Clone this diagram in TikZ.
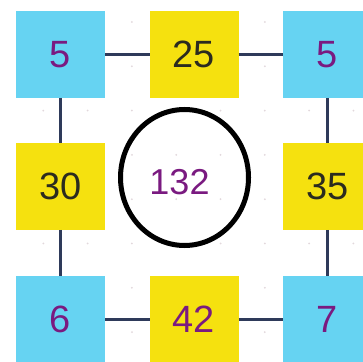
\documentclass[tikz,border=0pt]{standalone}
\usepackage{fontspec}
\setmainfont{Liberation Sans}
\usetikzlibrary{shapes.geometric}
\definecolor{boxblue}{HTML}{66D3F2}
\definecolor{boxyellow}{HTML}{F5E10F}
\definecolor{numpurple}{HTML}{7A1A80}
\definecolor{numdark}{HTML}{2B2B1F}
\definecolor{linknavy}{HTML}{2E3A5A}
\definecolor{dotgray}{HTML}{E2D8DC}
\begin{document}
\begin{tikzpicture}[x=1pt,y=1pt,
  cell/.style={minimum width=89pt,minimum height=87pt,inner sep=0pt,outer sep=0pt,
    font=\fontsize{38}{40}\selectfont},
  bluecell/.style={cell,fill=boxblue,text=numpurple},
  yellowcell/.style={cell,fill=boxyellow,text=numdark},
  link/.style={draw=linknavy,line width=3pt},
  ring/.style={ellipse,draw=black,line width=5pt,minimum width=128pt,minimum height=136pt,
    inner sep=0pt},
  ringtext/.style={text=numpurple,font=\fontsize{36}{38}\selectfont,inner sep=0pt}]
\useasboundingbox (0,0) rectangle (363,361);
\clip (0,0) rectangle (363,361);
\fill[white] (0,0) rectangle (363,361);
% faint grid dots
\foreach \i in {1,...,8}{
  \foreach \j in {1,...,8}{
    \fill[dotgray] ({44.3*\i-1},{361-(44.3*\j-22.3)}) circle (1pt);
  }
}
\node[bluecell] (a) at (60.5,306.5) {5};
\node[yellowcell] (b) at (194,306.5) {25};
\node[bluecell] (c) at (327.5,306.5) {5};
\node[yellowcell] (d) at (60.5,174.5) {30};
\node[yellowcell] (f) at (327.5,174.5) {35};
\node[bluecell] (g) at (60.5,42) {6};
\node[yellowcell,text=numpurple] (h) at (194,42) {42};
\node[bluecell] (i) at (327.5,42) {7};
\node[ring,label={[ringtext,xshift=-5pt,yshift=-5pt]center:132}] (e) at (184.5,183.5) {};
\draw[link] (a.east) -- (b.west);
\draw[link] (b.east) -- (c.west);
\draw[link] (g.east) -- (h.west);
\draw[link] (h.east) -- (i.west);
\draw[link] (a.south) -- (d.north);
\draw[link] (d.south) -- (g.north);
\draw[link] (c.south) -- (f.north);
\draw[link] (f.south) -- (i.north);
\end{tikzpicture}
\end{document}
